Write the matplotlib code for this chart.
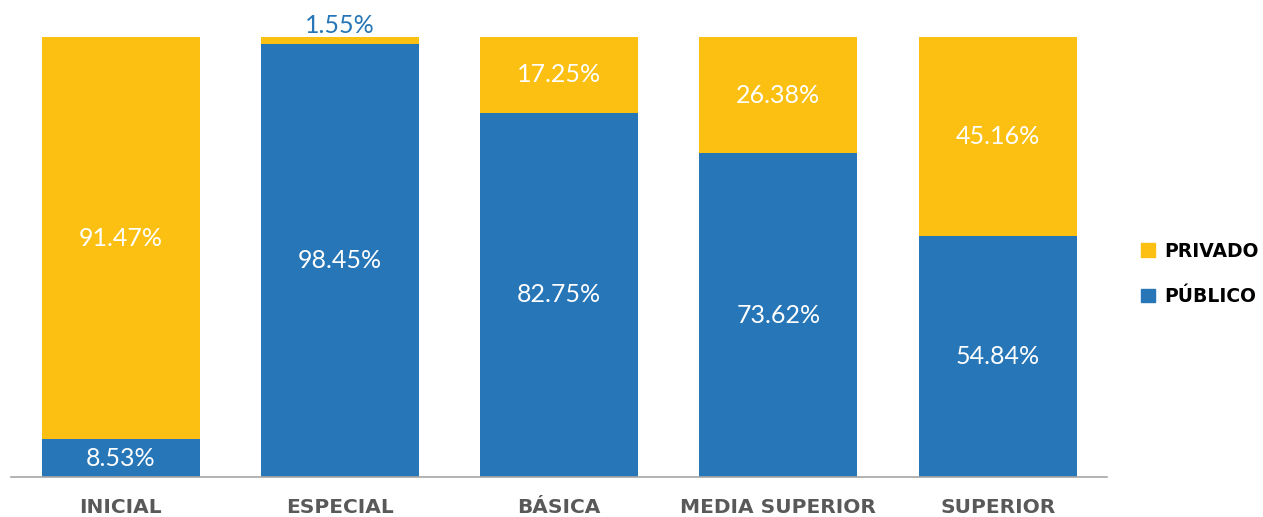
import matplotlib.pyplot as plt
from matplotlib.patches import Patch
import numpy as np

categories = ['INICIAL', 'ESPECIAL', 'BÁSICA', 'MEDIA SUPERIOR', 'SUPERIOR']
publico = [8.53, 98.45, 82.75, 73.62, 54.84]
privado = [91.47, 1.55, 17.25, 26.38, 45.16]

BLUE = '#2676B8'
YELLOW = '#FBC012'

fig = plt.figure(figsize=(12.63, 5.17), dpi=100)
ax = fig.add_axes([0.0087, 0.0774, 0.868, 0.851])

x = np.arange(len(categories))
w = 0.72
ax.bar(x, publico, w, color=BLUE, zorder=2)
ax.bar(x, privado, w, bottom=publico, color=YELLOW, zorder=2)

lab = dict(fontsize=18, family='Lato')
for i in range(len(categories)):
    ax.text(x[i], publico[i] / 2, f'{publico[i]:.2f}%', ha='center', va='center',
            color='white', **lab)
    if privado[i] < 5:
        ax.text(x[i], 100 + 0.1, f'{privado[i]:.2f}%', ha='center', va='bottom',
                color=BLUE, **lab)
    else:
        ax.text(x[i], publico[i] + privado[i] / 2, f'{privado[i]:.2f}%', ha='center',
                va='center', color='white', **lab)

ax.set_xlim(-0.5, 4.5)
ax.set_ylim(0, 100)
ax.set_yticks([])
ax.set_xticks(x)
ax.set_xticklabels(categories, fontsize=14.5, fontweight='bold', color='#595959')
ax.tick_params(axis='x', length=0, pad=15)
for s in ['top', 'right', 'left']:
    ax.spines[s].set_visible(False)
ax.spines['bottom'].set_color('#A6A6A6')
ax.spines['bottom'].set_linewidth(1.2)

handles = [Patch(color=YELLOW, label='PRIVADO'), Patch(color=BLUE, label='PÚBLICO')]
fig.legend(handles=handles, loc='center left', bbox_to_anchor=(0.89, 0.47),
           frameon=False, handlelength=0.75, handleheight=0.75, handletextpad=0.5,
           labelspacing=1.4, prop={'weight': 'bold', 'size': 13.5})

fig.savefig('out.png', dpi=100)
